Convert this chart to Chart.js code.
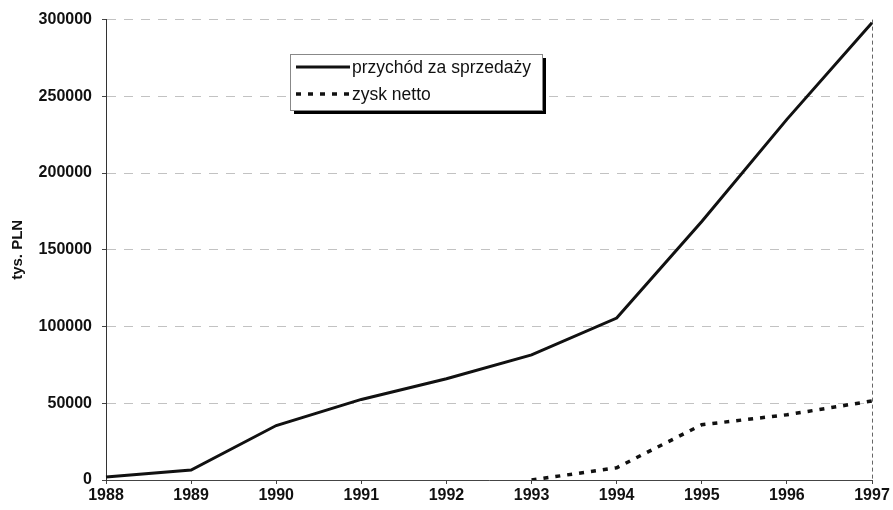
<!DOCTYPE html>
<html lang="pl">
<head>
    <meta charset="UTF-8">
    <title>Przychód i zysk</title>
    <script src="https://cdn.jsdelivr.net/npm/chart.js"></script>
    <style>
        * { margin: 0; padding: 0; box-sizing: border-box; }
        body { background: #fff; font-family: 'Liberation Sans', Arial, sans-serif; }
        .chart-box { width: 893px; height: 510px; }
    </style>
</head>
<body>
    <div class="chart-box">
        <canvas id="finChart"></canvas>
    </div>

    <script>
        // dane (tys. PLN)
        const years = ['1988', '1989', '1990', '1991', '1992', '1993', '1994', '1995', '1996', '1997'];
        const przychod = [2000, 6500, 35500, 52500, 66000, 81500, 105500, 168500, 235000, 298000];
        const zysk = [null, null, null, null, null, 0, 8000, 36000, 42500, 51500];
        const yTicks = [0, 50000, 100000, 150000, 200000, 250000, 300000];

        // legenda w ramce z cieniem, jak w oryginale
        const boxLegend = {
            id: 'boxLegend',
            afterDraw(chart) {
                const ctx = chart.ctx;
                const x = 290, y = 54, w = 252, h = 56;
                ctx.save();
                ctx.fillStyle = '#000';
                ctx.fillRect(x + 4, y + 4, w, h);
                ctx.fillStyle = '#fff';
                ctx.fillRect(x, y, w, h);
                ctx.strokeStyle = '#888';
                ctx.lineWidth = 1;
                ctx.strokeRect(x + 0.5, y + 0.5, w, h);
                chart.data.datasets.forEach((ds, i) => {
                    const ly = y + 13 + i * 27;
                    ctx.strokeStyle = ds.borderColor;
                    ctx.lineWidth = ds.borderWidth;
                    ctx.setLineDash(ds.borderDash || []);
                    ctx.beginPath();
                    ctx.moveTo(x + 6, ly);
                    ctx.lineTo(x + 60, ly);
                    ctx.stroke();
                    ctx.setLineDash([]);
                    ctx.fillStyle = '#111';
                    ctx.font = '17.5px "Liberation Sans", Arial, sans-serif';
                    ctx.textBaseline = 'middle';
                    ctx.fillText(ds.label, x + 62, ly + 1);
                });
                ctx.restore();
            }
        };

        const ctx = document.getElementById('finChart').getContext('2d');
        const finChart = new Chart(ctx, {
            type: 'line',
            data: {
                labels: years,
                datasets: [{
                    label: 'przychód za sprzedaży',
                    data: przychod,
                    borderColor: '#111',
                    borderWidth: 3,
                    pointRadius: 0,
                    tension: 0,
                    fill: false
                }, {
                    label: 'zysk netto',
                    data: zysk,
                    borderColor: '#111',
                    borderWidth: 3.5,
                    borderDash: [5, 7],
                    borderCapStyle: 'butt',
                    pointRadius: 0,
                    tension: 0,
                    fill: false
                }]
            },
            options: {
                responsive: true,
                maintainAspectRatio: false,
                animation: false,
                layout: {
                    padding: { top: 17, right: 21, left: 0, bottom: 0 }
                },
                plugins: {
                    legend: { display: false },
                    tooltip: { enabled: false }
                },
                scales: {
                    x: {
                        offset: false,
                        afterFit: (scale) => { scale.height = 30; },
                        grid: {
                            color: (c) => c.index === years.length - 1 ? '#666' : 'rgba(0,0,0,0)',
                            tickColor: '#444',
                            tickLength: 4
                        },
                        border: { color: '#444', width: 1, dash: [4, 3] },
                        ticks: {
                            color: '#111',
                            padding: 2,
                            maxRotation: 0,
                            autoSkip: false,
                            font: { family: '"Liberation Sans", Arial, sans-serif', size: 16, weight: 'bold' }
                        }
                    },
                    y: {
                        min: 0,
                        max: 300000,
                        afterFit: (scale) => { scale.width = 106; },
                        afterBuildTicks: (scale) => { scale.ticks = yTicks.map(v => ({ value: v })); },
                        grid: {
                            color: '#c2c2c2',
                            tickColor: '#444',
                            tickLength: 4
                        },
                        border: { color: '#333', width: 1, dash: [9, 8] },
                        ticks: {
                            color: '#111',
                            padding: 10,
                            callback: (v) => String(v),
                            font: { family: '"Liberation Sans", Arial, sans-serif', size: 16, weight: 'bold' }
                        },
                        title: {
                            display: true,
                            text: 'tys. PLN',
                            color: '#111',
                            padding: { top: 9, bottom: 0 },
                            font: { family: '"Liberation Sans", Arial, sans-serif', size: 15, weight: 'bold' }
                        }
                    }
                }
            },
            plugins: [boxLegend]
        });
    </script>
</body>
</html>
